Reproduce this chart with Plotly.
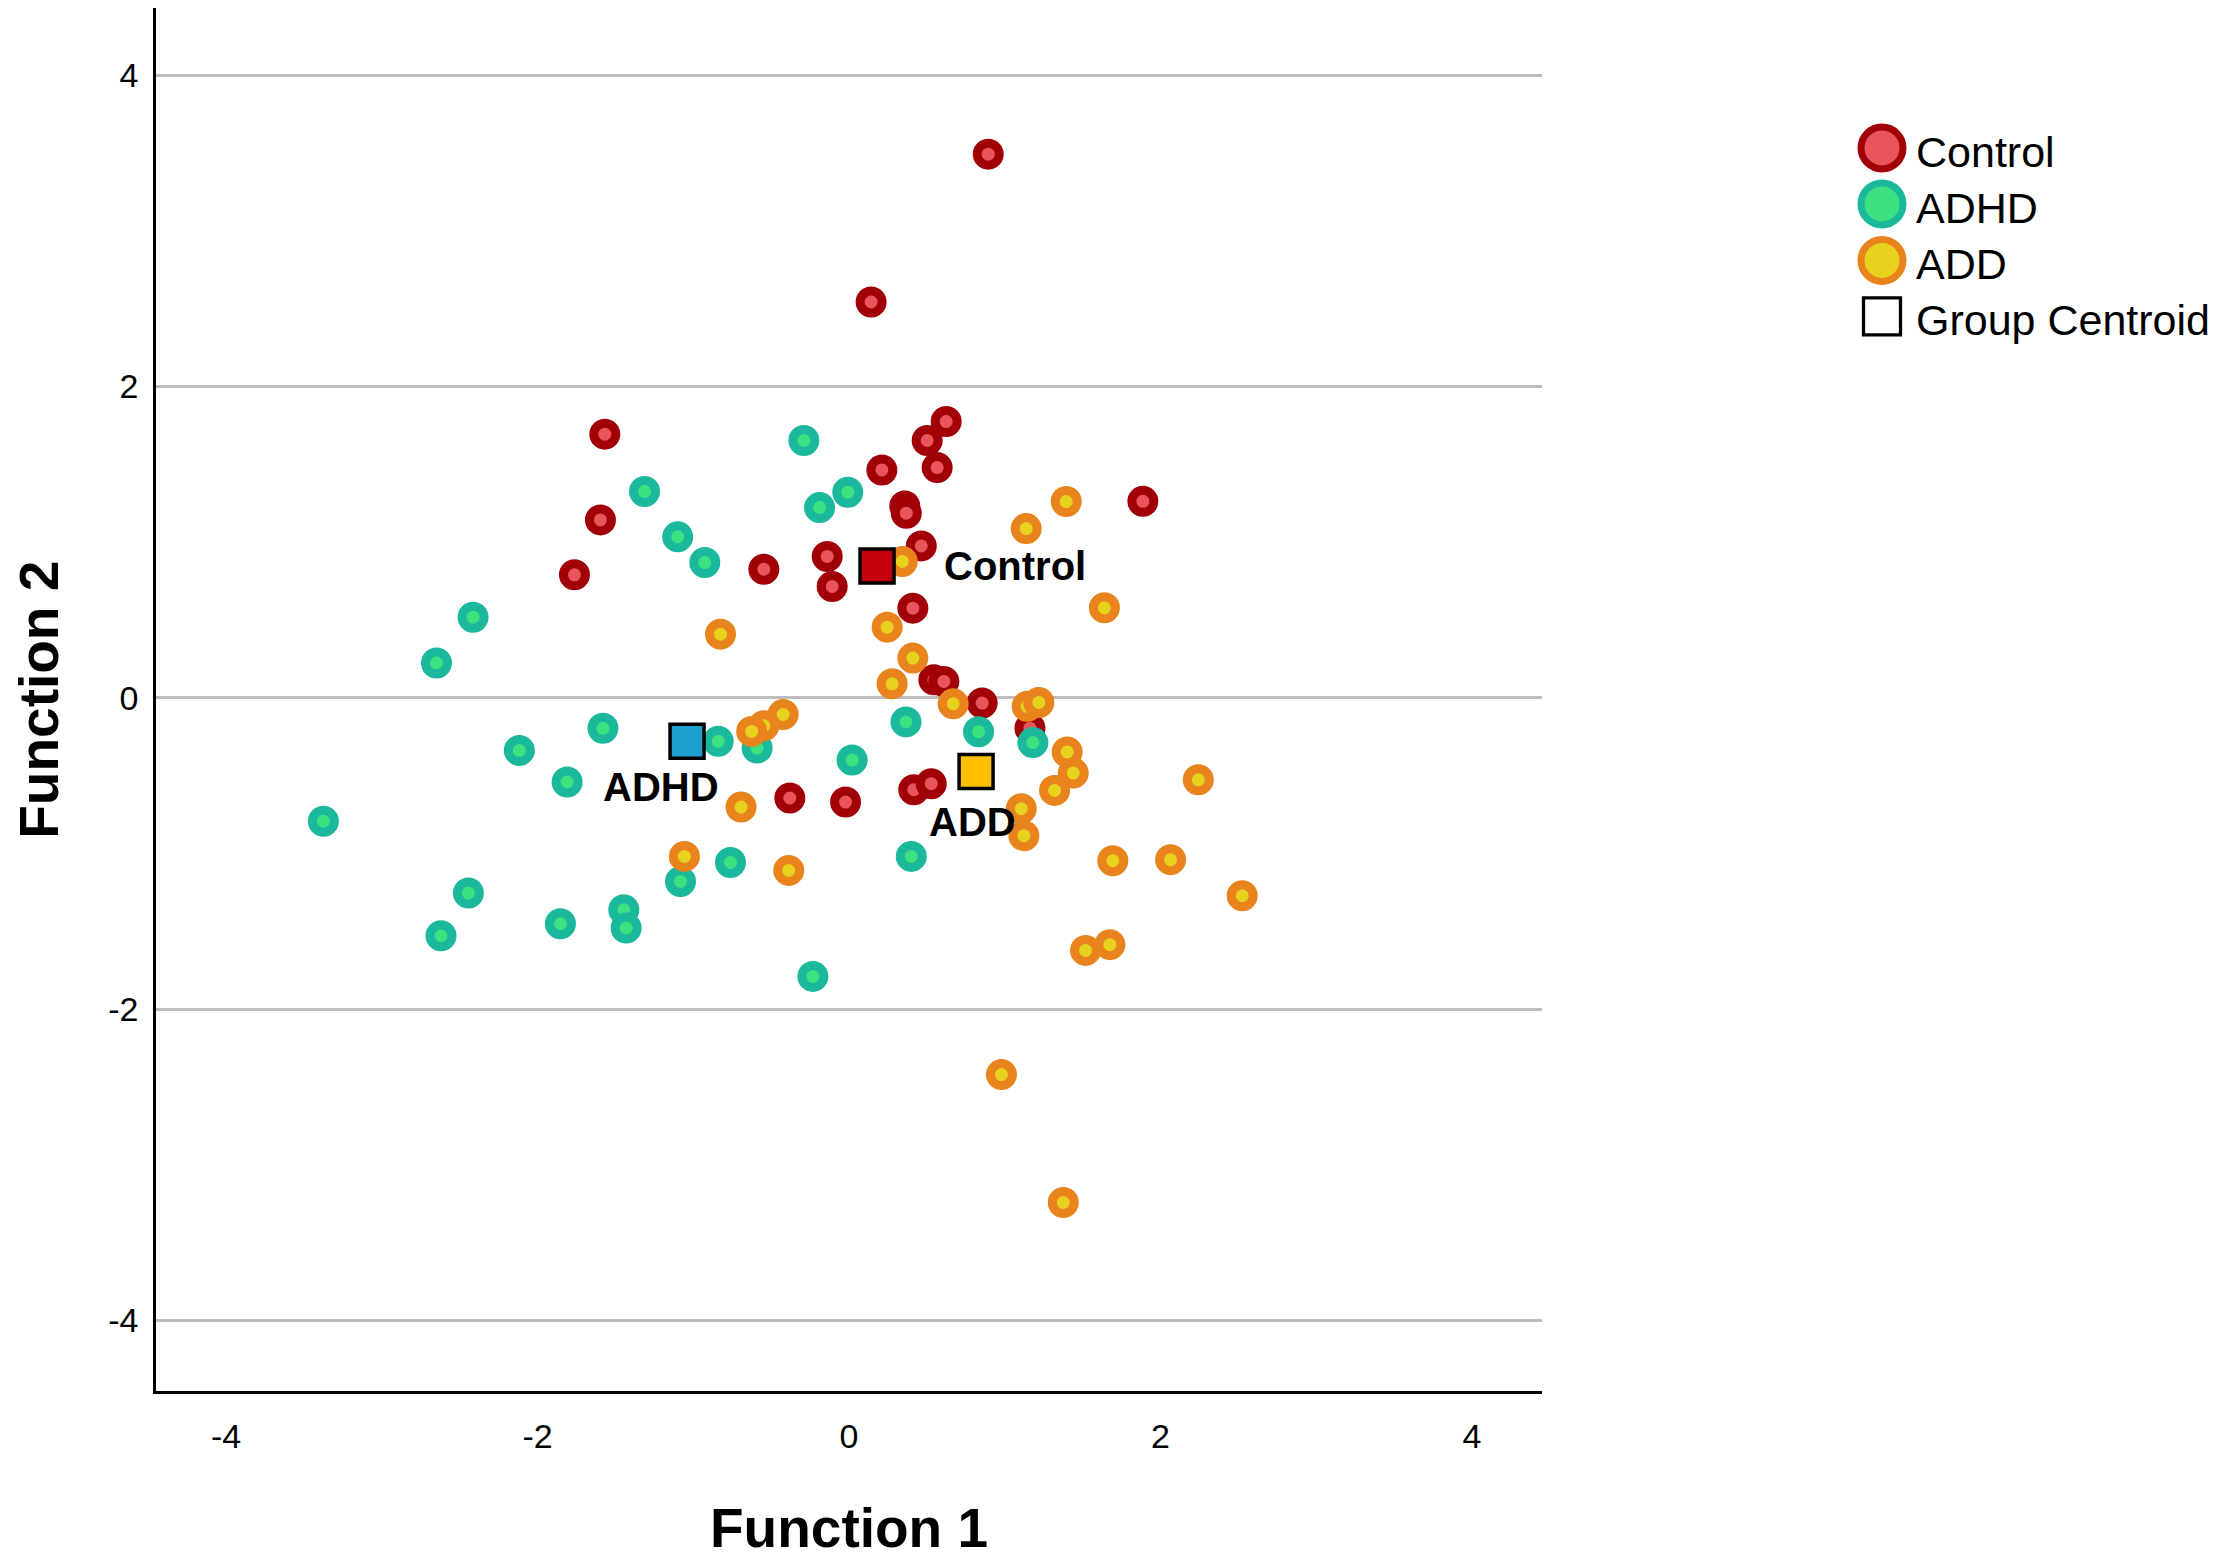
import plotly.graph_objects as go

# ---------------- data ----------------
groups = ["Control", "ADHD", "ADD"]

control_x = [0.894, 0.142, -1.568, 0.624, 0.502, 0.211, 0.566, -1.596, 0.358, 0.368,
             1.887, 0.464, -1.763, -0.547, -0.140, -0.108, 0.410, 0.545, 0.609, 0.855,
             1.162, -0.380, -0.022, 0.416, 0.528]
control_y = [3.493, 2.543, 1.694, 1.775, 1.653, 1.464, 1.479, 1.143, 1.233, 1.186,
             1.262, 0.976, 0.790, 0.826, 0.908, 0.715, 0.576, 0.116, 0.105, -0.034,
             -0.195, -0.644, -0.670, -0.591, -0.552]

adhd_x = [-0.290, -1.313, -0.189, -0.008, -1.100, -0.926, -2.414, -2.649, -1.580, -2.117,
          -1.810, -0.840, -0.590, 0.020, 0.366, 0.832, 1.181, -3.375, -2.444, -2.620,
          -1.853, -1.446, -1.431, -1.082, -0.761, 0.400, -0.232]
adhd_y = [1.653, 1.325, 1.222, 1.321, 1.034, 0.869, 0.518, 0.223, -0.196, -0.338,
          -0.541, -0.280, -0.323, -0.400, -0.155, -0.218, -0.288, -0.793, -1.254, -1.529,
          -1.452, -1.362, -1.479, -1.180, -1.058, -1.019, -1.790]

add_x = [1.395, 1.138, 1.640, 0.342, 0.245, -0.825, 0.410, 0.277, 0.669, -0.423,
         -0.547, -0.625, 1.144, 1.219, 1.401, 1.440, 1.320, 2.243, -0.693, 1.106,
         1.123, -1.057, -0.387, 1.694, 2.065, 2.525, 1.519, 1.675, 0.979, 1.376]
add_y = [1.261, 1.087, 0.578, 0.876, 0.454, 0.409, 0.255, 0.090, -0.039, -0.107,
         -0.180, -0.216, -0.055, -0.030, -0.348, -0.484, -0.595, -0.527, -0.702, -0.713,
         -0.886, -1.019, -1.109, -1.047, -1.040, -1.272, -1.623, -1.586, -2.421, -3.243]

centroid_x = [0.18, -1.04, 0.816]
centroid_y = [0.846, -0.279, -0.474]

tick_vals = [-4, -2, 0, 2, 4]
legend_labels = ["Control", "ADHD", "ADD", "Group Centroid"]
x_title = "Function 1"
y_title = "Function 2"

# ---------------- styles / layout ----------------
ring = ["#a10009", "#1bb89b", "#e8831d"]
inner = ["#e8565b", "#3ee07f", "#e6d21f"]
centroid_fill = ["#c4000a", "#1c9ecf", "#ffc000"]
FONT = "Liberation Sans, Arial, sans-serif"

OFF = 8                      # page body margin of the html page
W, H = 2217 - OFF, 1562 - OFF
ML, MT = 148, 0
PW, PH = 1386, 1383.5
MR = W - ML - PW
MB = H - MT - PH
X_RANGE = [-4.45, 4.45]
Y_RANGE = [-4.454, 4.432]


def px_to_paper_x(px):
    return (px - OFF - ML) / PW


def px_to_paper_y(py):
    return (MT + PH - (py - OFF)) / PH


fig = go.Figure()

series = [(control_x, control_y), (adhd_x, adhd_y), (add_x, add_y)]
for i, (xs, ys) in enumerate(series):
    fig.add_trace(go.Scatter(
        x=xs, y=ys, mode="markers", name=groups[i], showlegend=False,
        marker=dict(size=22, color=inner[i], line=dict(color=ring[i], width=9)),
        cliponaxis=False,
    ))

fig.add_trace(go.Scatter(
    x=centroid_x, y=centroid_y, mode="markers", name="Group Centroid", showlegend=False,
    marker=dict(symbol="square", size=34, color=centroid_fill,
                line=dict(color="black", width=3.5)),
))

# centroid labels
label_pos = [(0.60, 0.85, "left"), (-1.21, -0.574, "center"), (0.79, -0.80, "center")]
annotations = []
for (lx, ly, anc), name in zip(label_pos, groups):
    annotations.append(dict(x=lx, y=ly, xref="x", yref="y", text="<b>%s</b>" % name,
                            showarrow=False, xanchor=anc, yanchor="middle",
                            font=dict(family=FONT, size=40, color="black")))

# axis titles
annotations.append(dict(x=px_to_paper_x(848.5), y=px_to_paper_y(1529), xref="paper", yref="paper",
                        text="<b>%s</b>" % x_title, showarrow=False,
                        xanchor="center", yanchor="middle",
                        font=dict(family=FONT, size=55, color="black")))
annotations.append(dict(x=px_to_paper_x(39), y=px_to_paper_y(700), xref="paper", yref="paper",
                        text="<b>%s</b>" % y_title, showarrow=False, textangle=-90,
                        xanchor="center", yanchor="middle",
                        font=dict(family=FONT, size=55, color="black")))

# custom legend (large glyphs like the original)
shapes = []
leg_x = px_to_paper_x(1882)
leg_text_x = px_to_paper_x(1914)
leg_rows_px = [148, 204, 260.5, 316.5]
for k, lab in enumerate(legend_labels):
    yp = px_to_paper_y(leg_rows_px[k])
    if k < 3:
        shapes.append(dict(type="circle", xref="paper", yref="paper",
                           xsizemode="pixel", ysizemode="pixel",
                           xanchor=leg_x, yanchor=yp,
                           x0=-21, x1=21, y0=-21, y1=21,
                           fillcolor=inner[k], line=dict(color=ring[k], width=7)))
    else:
        shapes.append(dict(type="rect", xref="paper", yref="paper",
                           xsizemode="pixel", ysizemode="pixel",
                           xanchor=leg_x, yanchor=yp,
                           x0=-18.5, x1=18.5, y0=-18.5, y1=18.5,
                           fillcolor="white", line=dict(color="black", width=3.3)))
    annotations.append(dict(x=leg_text_x, y=yp - 4 / PH, xref="paper", yref="paper",
                            text=lab, showarrow=False, xanchor="left", yanchor="middle",
                            font=dict(family=FONT, size=43, color="black")))

fig.update_layout(
    width=W, height=H,
    margin=dict(l=ML, r=MR, t=MT, b=MB, pad=0),
    paper_bgcolor="white", plot_bgcolor="white",
    showlegend=False,
    annotations=annotations,
    shapes=shapes,
    font=dict(family=FONT, color="black"),
)

fig.update_xaxes(range=X_RANGE, tickvals=tick_vals, ticktext=[str(v) for v in tick_vals],
                 showgrid=False, zeroline=False, showline=True, linecolor="black", linewidth=2.5,
                 ticks="outside", ticklen=13, tickcolor="rgba(0,0,0,0)",
                 tickfont=dict(family=FONT, size=34, color="black"))
fig.update_yaxes(range=Y_RANGE, tickvals=tick_vals, ticktext=[str(v) for v in tick_vals],
                 showgrid=True, gridcolor="#bdbdbd", gridwidth=3,
                 zeroline=False, showline=True, linecolor="black", linewidth=2.5,
                 ticks="outside", ticklen=8, tickcolor="rgba(0,0,0,0)",
                 tickfont=dict(family=FONT, size=34, color="black"))

fig.write_html("out.html")
